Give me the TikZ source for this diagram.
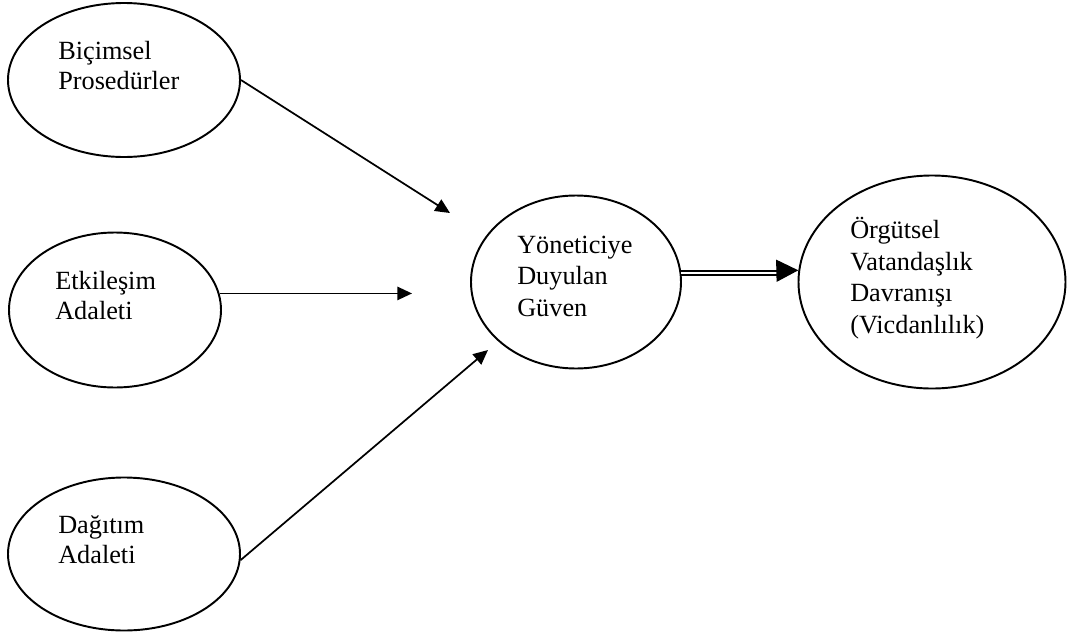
\documentclass[tikz,border=0pt]{standalone}
\usepackage{fontspec}
\setmainfont{Liberation Serif}
\usetikzlibrary{shapes.geometric,arrows.meta}
\tikzset{
  ell/.style={draw, ellipse, inner sep=0pt, line width=1.45pt},
  lbl/.style={anchor=base west, inner sep=0pt, align=left, font=\fontsize{19.7}{22.5}\selectfont},
  lblb/.style={anchor=base west, inner sep=0pt, align=left, font=\fontsize{19.7}{23.6}\selectfont},
  arr/.style={line width=1.3pt, -{Triangle[length=11pt,width=10pt]}},
  dbl/.style={line width=1.4pt, double, double distance=1.9pt},
  bigtip/.style={line width=1pt, -{Triangle[length=16.5pt,width=16.5pt]}}
}
\begin{document}
\begin{tikzpicture}[x=0.75pt,y=-0.75pt]
\useasboundingbox (0,0) rectangle (1072,636);
\node[ell, minimum width=174pt, minimum height=115.5pt] (e1) at (124,80) {};
\node[ell, minimum width=159pt, minimum height=116.25pt] (e2) at (115,310) {};
\node[ell, minimum width=174pt, minimum height=114.75pt] (e3) at (124,554) {};
\node[ell, minimum width=157.5pt, minimum height=129.75pt] (e4) at (576,282) {};
\node[ell, minimum width=200.25pt, minimum height=159.75pt] (e5) at (932,282) {};
% anchors at the baseline of the last line
\node[lbl] (t1) at (58,89) {Biçimsel\\Prosedürler};
\node[lbl] (t2) at (55,319) {Etkileşim\\Adaleti};
\node[lbl] (t3) at (58,563) {Dağıtım\\Adaleti};
\node[lblb] (t4) at (517,316) {Yöneticiye\\Duyulan\\Güven};
\node[lblb] (t5) at (850,333) {Örgütsel\\Vatandaşlık\\Davranışı\\(Vicdanlılık)};
\coordinate (p1) at (450,213);
\coordinate (p2) at (412,292);
\coordinate (p3) at (488,350);
\draw[arr] (e1.east) -- (p1);
\draw[arr] (e2.9.7) -- (e2.9.7 -| p2);
\draw[arr] (e3.-3.5) -- (p3);
\draw[dbl, shorten >=14pt] (e4.5.5) -- (e4.5.5 -| e5.west);
\draw[bigtip, shorten <=70pt] (e4.5.5) -- (e5.175.7);
\end{tikzpicture}
\end{document}
